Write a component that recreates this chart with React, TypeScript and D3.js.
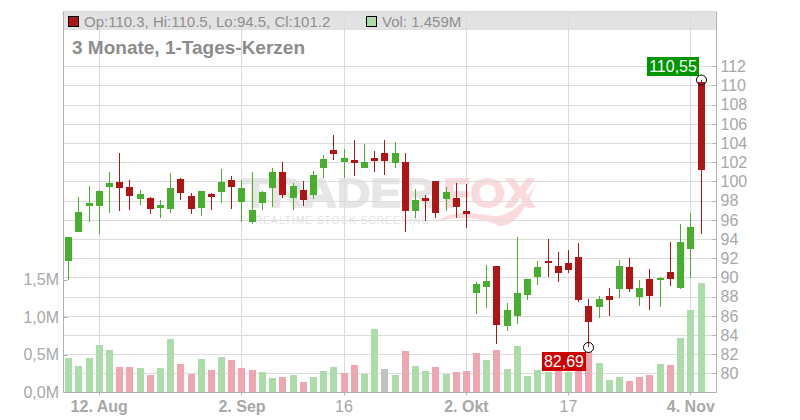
import * as d3 from 'd3'

const opens = [91.7, 94.72, 97.43, 97.43, 99.41, 99.93, 99.41, 98.16, 98.26, 97.22, 97.11, 100.24, 98.47, 97.22, 98.68, 98.89, 100.14, 97.84, 95.76, 97.74, 99.3, 100.97, 98.26, 99.09, 98.57, 101.39, 103.26, 102.01, 102.22, 101.39, 102.43, 102.95, 101.91, 102.01, 96.9, 98.26, 100.03, 98.16, 98.26, 96.9, 88.36, 88.99, 91.18, 84.93, 85.97, 88.16, 90.03, 91.7, 91.18, 91.49, 92.11, 87.01, 86.91, 88.05, 88.78, 91.07, 87.95, 89.82, 89.72, 90.55, 88.89, 92.95, 110.3]
const highs = [94.2, 98.36, 99.51, 99.09, 100.97, 102.95, 100.14, 99.09, 98.36, 98.05, 100.86, 100.34, 98.78, 98.99, 98.78, 101.28, 100.55, 100.14, 100.97, 98.99, 101.39, 102.01, 99.82, 100.03, 101.07, 102.74, 104.82, 103.36, 104.3, 103.88, 103.16, 104.3, 104.09, 102.95, 99.2, 98.57, 100.03, 99.41, 99.82, 99.72, 89.51, 91.28, 91.18, 87.32, 94.2, 89.82, 91.7, 93.99, 92.64, 92.84, 93.57, 87.74, 88.05, 88.89, 91.8, 92.01, 89.72, 90.86, 90.03, 93.68, 95.55, 96.7, 110.55]
const lows = [89.72, 94.72, 95.76, 94.51, 96.7, 96.9, 97.01, 97.53, 96.59, 96.18, 96.7, 98.05, 96.59, 96.39, 97.01, 97.74, 97.11, 95.76, 95.55, 97.01, 97.32, 98.26, 97.01, 97.43, 98.16, 100.34, 102.22, 100.34, 100.55, 101.39, 100.97, 100.66, 101.39, 94.72, 96.18, 95.86, 96.18, 96.9, 96.18, 95.14, 86.18, 86.8, 83.05, 84.41, 85.13, 87.64, 89.2, 90.03, 89.51, 90.45, 87.43, 82.69, 85.76, 85.97, 87.84, 88.47, 87.01, 86.59, 86.91, 89.09, 88.78, 89.93, 94.5]
const closes = [94.2, 96.8, 97.74, 98.99, 99.82, 99.3, 98.47, 98.68, 97.11, 97.53, 99.3, 98.78, 97.11, 98.99, 98.36, 99.93, 99.41, 99.3, 97.01, 98.89, 100.97, 98.57, 99.51, 98.05, 100.66, 102.32, 102.84, 102.43, 101.91, 102.01, 102.11, 102.11, 102.95, 96.9, 98.05, 97.95, 96.7, 98.89, 97.32, 96.59, 89.3, 89.61, 85.03, 86.59, 88.36, 89.82, 91.07, 91.49, 90.45, 90.76, 87.64, 85.34, 87.74, 87.64, 91.18, 88.78, 88.89, 88.05, 89.93, 89.82, 93.68, 95.24, 101.2]
const volumes = [0.458, 0.351, 0.458, 0.631, 0.564, 0.338, 0.338, 0.324, 0.231, 0.324, 0.711, 0.378, 0.244, 0.444, 0.298, 0.471, 0.431, 0.324, 0.298, 0.271, 0.191, 0.204, 0.231, 0.138, 0.204, 0.284, 0.338, 0.258, 0.364, 0.244, 0.844, 0.311, 0.231, 0.551, 0.351, 0.284, 0.338, 0.244, 0.271, 0.284, 0.524, 0.431, 0.564, 0.311, 0.618, 0.218, 0.298, 0.271, 0.36, 0.271, 0.4, 0.542, 0.391, 0.164, 0.204, 0.151, 0.204, 0.231, 0.378, 0.364, 0.724, 1.098, 1.458]
// g = up day, r = down day, n = unchanged
const volumeDirs = 'gggggrrgrg' + 'grrgrgrrrg' + 'grgrgggrrg' + 'gngrggrgrr' + 'rgrgggggrg' + 'rrgggrrrgr' + 'ggg'

const priceTicks = [80, 82, 84, 86, 88, 90, 92, 94, 96, 98, 100, 102, 104, 106, 108, 110, 112]
const volumeTicks = [0, 0.5, 1, 1.5]
const dateTicks = [
  { i: 3, label: '12. Aug', bold: true },
  { i: 17, label: '2. Sep', bold: true },
  { i: 27, label: '16', bold: false },
  { i: 39, label: '2. Okt', bold: true },
  { i: 49, label: '17', bold: false },
  { i: 61, label: '4. Nov', bold: true },
]

const W = 800
const H = 420
const left = 63.5
const right = 716.5
const top = 11.5
const bottom = 392.5

const GREEN = '#48ae2e'
const RED = '#b01515'
const VOL_COLORS: Record<string, string> = { g: '#abdcaa', r: '#f0a6b0', n: '#c2c2c2' }
const GRID = '#dcdcdc'
const AXIS = '#b0b0b0'
const TEXT = '#a8a8a8'
const FONT = '"Liberation Sans", Arial, sans-serif'

const x = d3.scaleLinear().domain([0, 62]).range([68.6, 701])
const yPrice = d3.scaleLinear().domain([80, 110]).range([373.3, 85.3])
const yVol = d3.scaleLinear().domain([0, 1.5]).range([392.3, 279.8])
const px = (v: number) => Math.round(v) + 0.5
const barX = (i: number) => Math.floor(x(i))

const fmtVol = (v: number) => d3.format('.1f')(v).replace('.', ',') + 'M'

export default function App() {
  const lowIdx = d3.minIndex(lows)
  const highIdx = d3.maxIndex(highs)

  return (
    <svg
      width={W}
      height={H}
      style={{ position: 'absolute', left: 0, top: 0, fontFamily: FONT }}
    >
      <rect x={0} y={0} width={W} height={H} fill="#fff" />

      {/* header band */}
      <rect x={left} y={top} width={right - left} height={18.5} fill="#e2e2e2" />

      {/* watermark */}
      <g>
        <text x={241} y={206.5} fontSize={41} fontWeight="bold" fill="#e6e6e6" stroke="#e6e6e6" strokeWidth={1.5} textLength={194} lengthAdjust="spacingAndGlyphs">TRADER</text>
        <text x={443} y={206.5} fontSize={41} fontWeight="bold" fill="#fbdadd" stroke="#fbdadd" strokeWidth={1.5} textLength={92} lengthAdjust="spacingAndGlyphs">FOX</text>
        <text x={255} y={224} fontSize={10} fill="#e2e2e2" textLength={174}>REALTIME STOCK SCREENING</text>
        <path d="M435,222 C470,212 490,222 500,226 C522,226 532,190 540,177 C528,198 515,214 497,216 C480,216 458,206 435,222 Z" fill="#fbdadd" />
      </g>

      {/* grid */}
      {priceTicks.map(t => (
        <line key={t} x1={left} x2={right} y1={px(yPrice(t))} y2={px(yPrice(t))} stroke={GRID} />
      ))}
      {dateTicks.map(d => (
        <line key={d.i} x1={barX(d.i) + 0.5} x2={barX(d.i) + 0.5} y1={top} y2={bottom} stroke={GRID} />
      ))}

      {/* volume */}
      {volumes.map((v, i) => {
        const y0 = Math.round(yVol(v))
        return (
          <rect
            key={i}
            x={barX(i) - 3}
            y={y0}
            width={7}
            height={Math.round(yVol(0)) - y0}
            fill={VOL_COLORS[volumeDirs[i]]}
          />
        )
      })}

      {/* candles */}
      {opens.map((o, i) => {
        const c = closes[i]
        const color = c >= o ? GREEN : RED
        const cx = barX(i)
        const yTop = Math.round(yPrice(Math.max(o, c)))
        const yBot = Math.round(yPrice(Math.min(o, c)))
        return (
          <g key={i}>
            <rect x={cx} y={Math.round(yPrice(highs[i]))} width={1} height={Math.round(yPrice(lows[i])) - Math.round(yPrice(highs[i]))} fill={color} />
            <rect x={cx - 3} y={yTop} width={7} height={Math.max(yBot - yTop, 1)} fill={color} />
          </g>
        )
      })}

      {/* axes */}
      <line x1={left} x2={left} y1={top} y2={bottom} stroke={AXIS} />
      <line x1={right} x2={right} y1={top} y2={bottom} stroke={AXIS} />
      <line x1={left} x2={right} y1={bottom} y2={bottom} stroke={AXIS} />
      <line x1={left} x2={right} y1={top} y2={top} stroke="#d8d8d8" />

      {priceTicks.map(t => (
        <g key={t}>
          <line x1={right - 4} x2={right} y1={px(yPrice(t))} y2={px(yPrice(t))} stroke={AXIS} />
          <text x={720.5} y={yPrice(t) + 5.8} fontSize={16} fill={TEXT}>{t}</text>
        </g>
      ))}
      {volumeTicks.map(t => (
        <g key={t}>
          <line x1={left} x2={left + 4} y1={px(yVol(t))} y2={px(yVol(t))} stroke={AXIS} />
          <text x={59} y={yVol(t) + 5.5} fontSize={16} fill={TEXT} textAnchor="end">{fmtVol(t)}</text>
        </g>
      ))}
      {dateTicks.map(d => (
        <g key={d.i}>
          <line x1={barX(d.i) + 0.5} x2={barX(d.i) + 0.5} y1={bottom} y2={bottom + 3} stroke={AXIS} />
          <text x={x(d.i)} y={412} fontSize={16} fontWeight={d.bold ? 'bold' : 'normal'} fill={TEXT} textAnchor="middle">{d.label}</text>
        </g>
      ))}

      {/* header legend */}
      <rect x={68.5} y={16.5} width={10} height={10} fill={RED} stroke="#000" />
      <text x={84} y={27} fontSize={15} fill="#8f8f8f">Op:110.3, Hi:110.5, Lo:94.5, Cl:101.2</text>
      <rect x={366.5} y={16.5} width={10} height={10} fill={VOL_COLORS.g} stroke="#000" />
      <text x={382} y={27} fontSize={15} fill="#8f8f8f">Vol: 1.459M</text>
      <text x={72} y={54} fontSize={19} fontWeight="bold" fill="#8c8c8c">3 Monate, 1-Tages-Kerzen</text>

      {/* high / low markers */}
      <rect x={647} y={57} width={52} height={19} fill="#009600" />
      <text x={673} y={72} fontSize={16} fill="#fff" textAnchor="middle">{d3.format('.2f')(highs[highIdx]).replace('.', ',')}</text>
      <circle cx={barX(highIdx) + 0.5} cy={yPrice(highs[highIdx])} r={5} fill="none" stroke="#000" />
      <rect x={542} y={352} width={44} height={19} fill="#cc0000" />
      <text x={564} y={367} fontSize={16} fill="#fff" textAnchor="middle">{d3.format('.2f')(lows[lowIdx]).replace('.', ',')}</text>
      <circle cx={barX(lowIdx) + 0.5} cy={yPrice(lows[lowIdx])} r={5} fill="none" stroke="#000" />
    </svg>
  )
}
